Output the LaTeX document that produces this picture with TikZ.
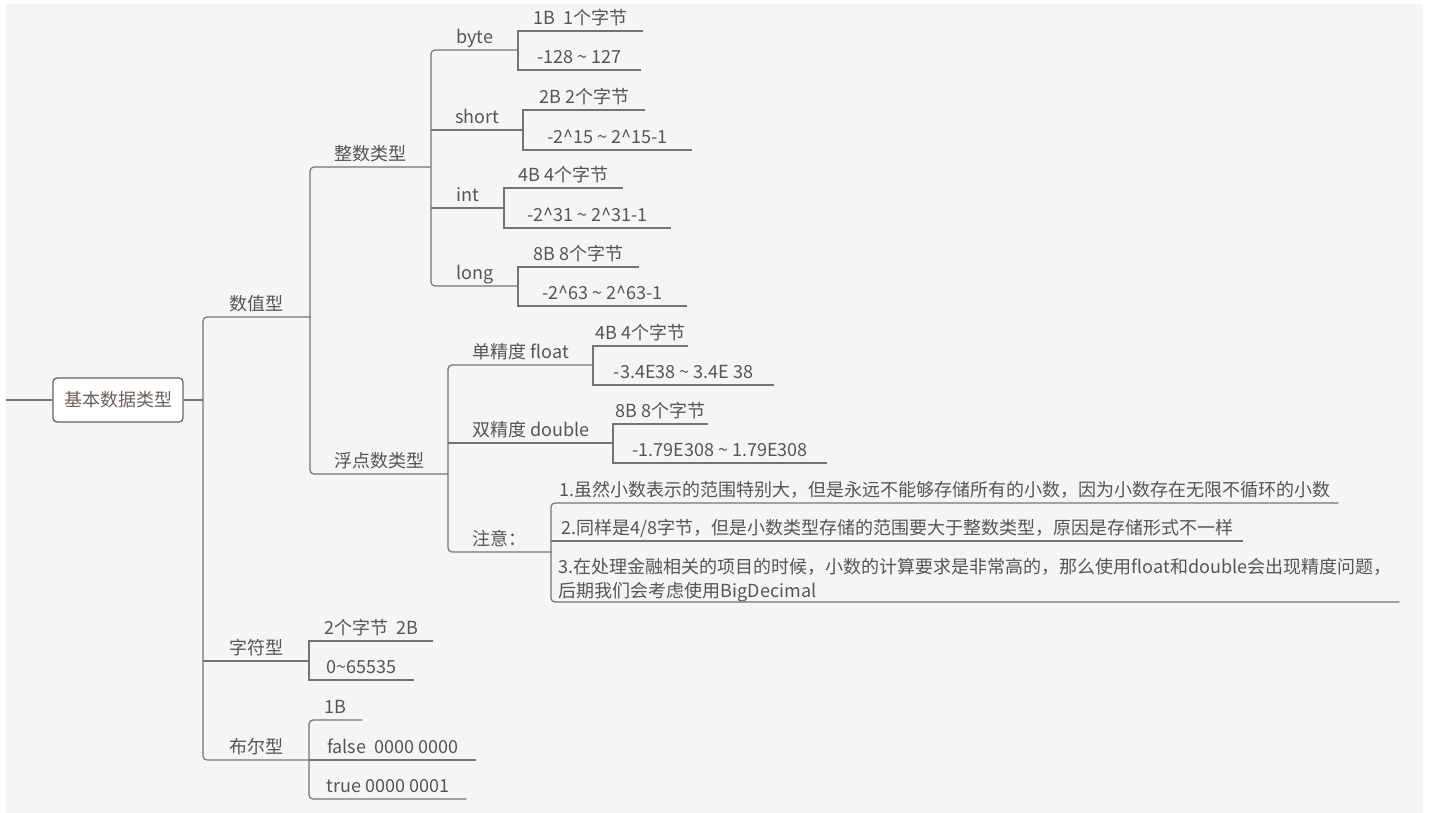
\documentclass[tikz,border=0pt]{standalone}
\usepackage{fontspec}
\setmainfont{Noto Sans CJK SC}
\newcommand{\tld}{\textasciitilde}
\newcommand{\crt}{\textasciicircum}
\definecolor{bggray}{HTML}{F5F5F5}
\definecolor{linegray}{HTML}{747474}
\definecolor{textgray}{HTML}{555555}
\definecolor{roottext}{HTML}{6E6058}
\tikzset{
    line/.style={draw=linegray,line width=1.2pt},
    trunk/.style={line,rounded corners=4pt},
    topic/.style={anchor=south west,inner xsep=0pt,inner ysep=0pt,
        text height=13pt,text depth=6pt,text=textgray},
    rootbox/.style={draw=linegray!85!black,line width=1.3pt,fill=white,
        rounded corners=4pt,minimum width=130pt,minimum height=44pt,
        inner sep=0pt,text=roottext}
}
\begin{document}
\begin{tikzpicture}[x=1pt,y=-1pt,font=\fontsize{18pt}{24pt}\selectfont]
    \useasboundingbox (0,0) rectangle (1430,813);
    \fill[white] (0,0) rectangle (1430,813);
    \fill[bggray] (6,4) rectangle (1423,813);

    % root
    \node[rootbox] (root) at (118,400) {基本数据类型};
    \coordinate (stub) at (6,400);

    % first level
    \node[topic,minimum width=107] (shuzhi) at (203,317) {数值型};
    \node[topic,minimum width=106] (zifu) at (203,661) {字符型};
    \node[topic,minimum width=106] (buer) at (203,760) {布尔型};

    % numeric
    \node[topic,minimum width=121] (zhengshu) at (310,167) {整数类型};
    \node[topic,minimum width=138] (fudian) at (310,474) {浮点数类型};

    \node[topic,minimum width=87] (byte) at (431,50) {byte};
    \node[topic,minimum width=92] (short) at (431,130) {short};
    \node[topic,minimum width=73] (int) at (431,208) {int};
    \node[topic,minimum width=87] (long) at (431,286) {long};

    \node[topic,minimum width=125] (byteA) at (518,31) {1B~~1个字节};
    \node[topic,minimum width=123] (byteB) at (518,70) {-128~\tld~127};
    \node[topic,minimum width=122] (shortA) at (523,110) {2B 2个字节};
    \node[topic,minimum width=169] (shortB) at (523,150) {-2\crt 15~\tld~2\crt 15-1};
    \node[topic,minimum width=119] (intA) at (504,188) {4B 4个字节};
    \node[topic,minimum width=167] (intB) at (504,228) {-2\crt 31~\tld~2\crt 31-1};
    \node[topic,minimum width=121] (longA) at (518,267) {8B 8个字节};
    \node[topic,minimum width=169] (longB) at (518,306) {-2\crt 63~\tld~2\crt 63-1};

    % floating point
    \node[topic,minimum width=145] (float) at (448,365) {单精度 float};
    \node[topic,minimum width=165] (double) at (448,443) {双精度 double};
    \node[topic,minimum width=103] (note) at (448,552) {注意：};

    \node[topic,minimum width=95] (floatA) at (593,346) {4B 4个字节};
    \node[topic,minimum width=181] (floatB) at (593,385) {-3.4E38~\tld~3.4E 38};
    \node[topic,minimum width=95] (doubleA) at (613,424) {8B 8个字节};
    \node[topic,minimum width=214] (doubleB) at (613,463) {-1.79E308~\tld~1.79E308};

    \node[topic,minimum width=787] (noteA) at (551,503)
        {1.虽然小数表示的范围特别大，但是永远不能够存储所有的小数，因为小数存在无限不循环的小数};
    \node[topic,minimum width=692] (noteB) at (551,541)
        {2.同样是4/8字节，但是小数类型存储的范围要大于整数类型，原因是存储形式不一样};
    \node[topic,minimum width=848,align=left,text depth=4pt] (noteC) at (551,602)
        {3.在处理金融相关的项目的时候，小数的计算要求是非常高的，那么使用float和double会出现精度问题，\\
         后期我们会考虑使用BigDecimal};

    % char and boolean
    \node[topic,minimum width=124] (zifuA) at (309,641) {2个字节~~2B};
    \node[topic,minimum width=105] (zifuB) at (309,680) {0\tld 65535};
    \node[topic,minimum width=53] (buerA) at (309,720) {1B};
    \node[topic,minimum width=167] (buerB) at (309,760) {false~~0000 0000};
    \node[topic,minimum width=157] (buerC) at (309,799) {true 0000 0001};

    % connectors
    \draw[line] (stub) -- (root.west);
    \draw[line] (root.east) -- (root.east -| shuzhi.south west);
    \draw[trunk] (shuzhi.south east) -- (shuzhi.south west)
        -- (buer.south west) -- (buer.south east);
    \draw[line] (zifu.south west) -- (zifu.south east);

    \draw[trunk] (zhengshu.south east) -- (zhengshu.south west)
        -- (fudian.south west) -- (fudian.south east);

    \draw[trunk] (byte.south east) -- (byte.south west)
        -- (long.south west) -- (long.south east);
    \foreach \n in {short,int}
        \draw[line] (\n.south west) -- (\n.south east);

    % leaf pairs
    \foreach \p in {byte,short,int,long,float,double,zifu}
        \draw[line] (\p A.south east) -- (\p A.south west)
            -- (\p B.south west) -- (\p B.south east);

    \draw[trunk] (float.south east) -- (float.south west)
        -- (note.south west) -- (note.south east);
    \draw[line] (double.south west) -- (double.south east);

    \draw[trunk] (noteA.south east) -- (noteA.south west)
        -- (noteC.south west) -- (noteC.south east);
    \draw[line] (noteB.south west) -- (noteB.south east);

    \draw[trunk] (buerA.south east) -- (buerA.south west)
        -- (buerC.south west) -- (buerC.south east);
    \draw[line] (buerB.south west) -- (buerB.south east);
\end{tikzpicture}
\end{document}
